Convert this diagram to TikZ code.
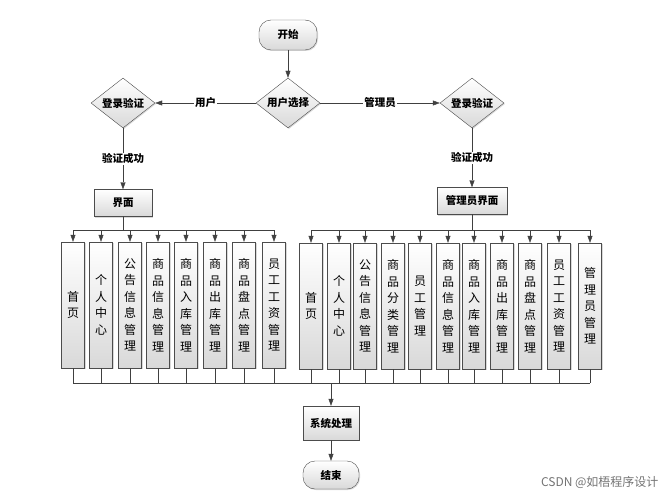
\documentclass[tikz,border=0pt]{standalone}
\usepackage{fontspec}
\setmainfont{Noto Sans CJK SC}
\usetikzlibrary{shapes.geometric,arrows.meta,shadows}
\begin{document}
\begin{tikzpicture}[x=1pt,y=-1pt,
  box/.style={draw=black!70,top color=white,bottom color=black!15,drop shadow={shadow xshift=1pt,shadow yshift=-1pt,opacity=.3},inner sep=0pt},
  term/.style={box,rounded corners=12pt,minimum width=58pt,minimum height=30pt,font=\bfseries\fontsize{10.5}{12}\selectfont},
  dia/.style={box,diamond,aspect=1.3,minimum width=64pt,minimum height=50pt,font=\bfseries\fontsize{10.5}{12}\selectfont},
  hbox/.style={box,minimum height=27pt,font=\bfseries\fontsize{10.5}{12}\selectfont},
  col/.style={box,minimum width=23pt,minimum height=126pt,align=center,font=\fontsize{12}{16.5}\selectfont,text width=14pt},
  arr/.style={draw=black!75,-{Triangle[length=7pt,width=5pt]}},
  ln/.style={draw=black!75},
  lab/.style={fill=white,font=\bfseries\fontsize{10.5}{12}\selectfont,inner sep=1pt}]
\useasboundingbox (0,0) rectangle (668,500);
\node[term] (start) at (288,35) {开始};
\node[dia] (sel) at (288,103) {用户选择};
\node[dia] (lu) at (123,103) {登录验证};
\node[dia] (la) at (472,103) {登录验证};
\node[hbox,minimum width=58pt] (ui) at (123,203) {界面};
\node[hbox,minimum width=70pt] (ai) at (472,201) {管理员界面};
\node[hbox,minimum width=56pt,minimum height=34pt] (sys) at (331,423) {系统处理};
\node[term,minimum width=56pt,minimum height=28pt] (end) at (331,475) {结束};
\draw[arr] (start) -- (sel);
\draw[arr] (sel) -- node[lab]{用户} (lu);
\draw[arr] (sel) -- node[lab]{管理员} (la);
\draw[arr] (lu) -- node[lab]{验证成功} (ui);
\draw[arr] (la) -- node[lab]{验证成功} (ai);
\coordinate (bot) at (331,383);
\foreach \n/\x/\t in {u1/73/首\\页,u2/101/个\\人\\中\\心,u3/130/公\\告\\信\\息\\管\\理,u4/158/商\\品\\信\\息\\管\\理,u5/186/商\\品\\入\\库\\管\\理,u6/215/商\\品\\出\\库\\管\\理,u7/244/商\\品\\盘\\点\\管\\理,u8/274/员\\工\\工\\资\\管\\理}{
  \node[col] (\n) at (\x,305) {\t};
  \draw[arr] (ui.south) |- (\x,230) -- (\n.north);
  \draw[ln] (\n.south) -- (\x,383);
}
\foreach \n/\x/\t in {a1/311/首\\页,a2/339/个\\人\\中\\心,a3/365/公\\告\\信\\息\\管\\理,a4/393/商\\品\\分\\类\\管\\理,a5/420/员\\工\\管\\理,a6/448/商\\品\\信\\息\\管\\理,a7/474/商\\品\\入\\库\\管\\理,a8/502/商\\品\\出\\库\\管\\理,a9/530/商\\品\\盘\\点\\管\\理,a10/559/员\\工\\工\\资\\管\\理,a11/590/管\\理\\员\\管\\理}{
  \node[col] (\n) at (\x,306) {\t};
  \draw[arr] (ai.south) |- (\x,230) -- (\n.north);
  \draw[ln] (\n.south) -- (\x,383);
}
\draw[ln] (73,383) -- (590,383);
\draw[arr] (bot) -- (sys);
\draw[arr] (sys) -- (end);
\node[text=black!55,font=\fontsize{12}{14}\selectfont,anchor=east] (wm) at (662,482) {CSDN @如梧程序设计};
\end{tikzpicture}
\end{document}
